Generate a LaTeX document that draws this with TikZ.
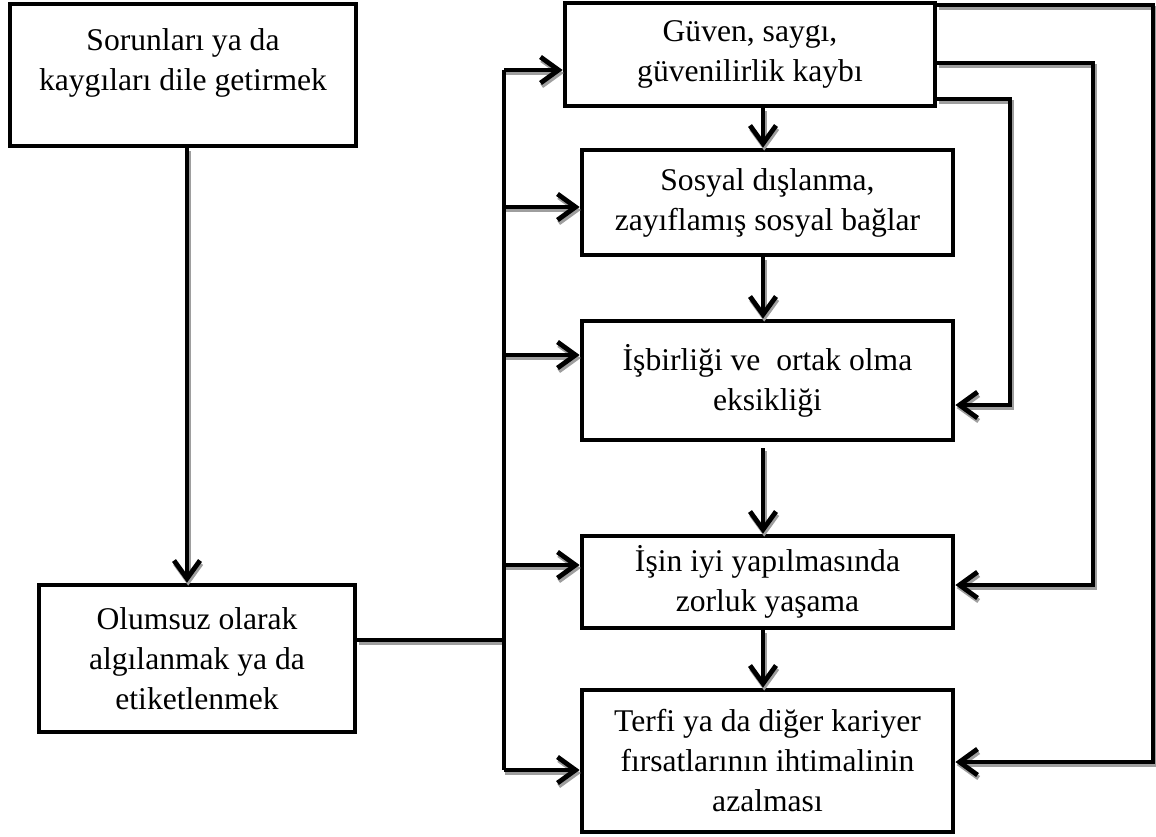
\documentclass[tikz,border=0pt]{standalone}
\usepackage{fontspec}
\setmainfont{LiberationSerif}[Extension=.ttf,UprightFont=*-Regular,BoldFont=*-Bold]
\usetikzlibrary{arrows.meta}

\begin{document}
\begin{tikzpicture}[x=0.5pt,y=-0.5pt,->,>={Straight Barb[length=9pt,width=13pt]},
	line width=2.4pt,
	box/.style={rectangle,draw,align=center,inner sep=2pt,font=\fontsize{15.8}{20}\selectfont},
	lineshadow/.style={preaction={draw=black!38,transform canvas={shift={(0.6pt,-1.5pt)}}}}]

	\useasboundingbox (0,0) rectangle (1156,836);

	\node[box,minimum width=173pt,minimum height=71pt] (raise) at (183,75) {Sorunları ya da\\kaygıları dile getirmek\\[-5pt]\mbox{}};
	\node[box,minimum width=158pt,minimum height=73.5pt] (labeled) at (197,658.5) {Olumsuz olarak\\algılanmak ya da\\etiketlenmek};
	\node[box,minimum width=185pt,minimum height=51.5pt] (trust) at (750,54.5) {Güven, saygı,\\güvenilirlik kaybı};
	\node[box,minimum width=185.5pt,minimum height=52.5pt] (social) at (767.5,202.5) {Sosyal dışlanma,\\zayıflamış sosyal bağlar};
	\node[box,minimum width=185.5pt,minimum height=59.5pt] (coop) at (767.5,380.5) {İşbirliği ve~ ortak olma\\eksikliği};
	\node[box,minimum width=185.5pt,minimum height=46pt] (work) at (767.5,582) {İşin iyi yapılmasında\\zorluk yaşama};
	\node[box,minimum width=185.5pt,minimum height=71pt] (career) at (767.5,761) {Terfi ya da diğer kariyer\\fırsatlarının ihtimalinin\\azalması};

	\coordinate (drop) at (187,0);
	\coordinate (col) at (763,0);
	\coordinate (join) at (504,640);

	% left side
	\draw[lineshadow] (raise.south -| drop) -- (labeled.north -| drop);
	\draw[-,lineshadow] (join -| labeled.east) -- (join);
	\foreach \y/\n in {70/trust,207/social,355/coop,565/work,770/career}
		\draw[lineshadow] (504,\y) -- (\n.west |- 0,\y);
	\draw[-] (504,70) -- (504,770);

	% down the column
	\draw[lineshadow] (trust.south -| col) -- (social.north -| col);
	\draw[lineshadow] (social.south -| col) -- (coop.north -| col);
	\draw[lineshadow] ([yshift=-3pt]coop.south -| col) -- (work.north -| col);
	\draw[lineshadow] (work.south -| col) -- (career.north -| col);

	% back loops
	\draw[lineshadow] (trust.east |- 0,99) -| (1010,405) -- (coop.east |- 0,405);
	\draw[lineshadow] (trust.east |- 0,63) -| (1093,585) -- (work.east |- 0,585);
	\draw[lineshadow] (trust.east |- 0,5) -| (1153,762) -- (career.east |- 0,762);
\end{tikzpicture}
\end{document}
